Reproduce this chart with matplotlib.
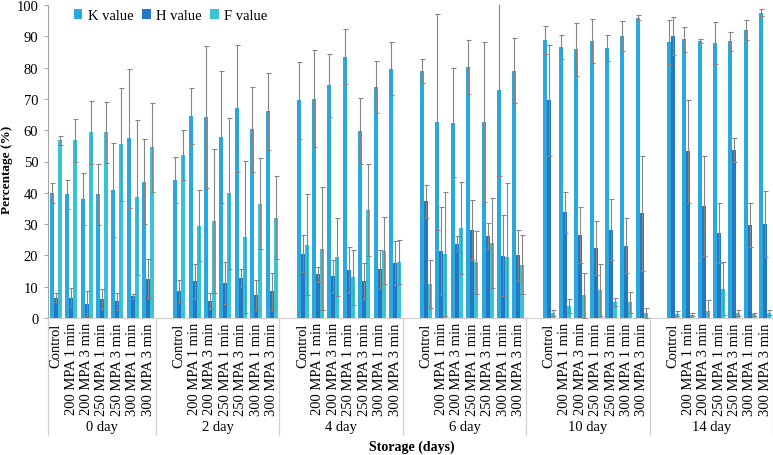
import matplotlib
matplotlib.use("Agg")
import matplotlib.pyplot as plt
import matplotlib.transforms as mtransforms
import numpy as np

plt.rcParams['font.family'] = ['Liberation Serif', 'DejaVu Serif']

treatments = ["Control", "200 MPA 1 min", "200 MPA 3 min", "250 MPA 1 min",
              "250 MPA 3 min", "300 MPA 1 min", "300 MPA 3 min"]
days = ["0 day", "2 day", "4 day", "6 day", "10 day", "14 day"]
series_names = ["K value", "H value", "F value"]

k_value = [
    [40.0, 39.5, 38.0, 39.5, 41.0, 57.5, 43.5],
    [44.0, 64.5, 64.3, 57.8, 67.0, 60.3, 66.0],
    [69.5, 70.0, 74.3, 83.5, 59.7, 73.8, 79.7],
    [79.0, 62.6, 62.4, 80.2, 62.6, 73.0, 79.0],
    [88.8, 86.6, 85.8, 88.5, 86.3, 90.1, 96.0],
    [88.2, 89.0, 88.4, 88.0, 88.4, 91.9, 97.6]]
k_err = [
    [3.2, 4.7, 8.2, 9.7, 15.0, 22.2, 13.6],
    [7.3, 9.0, 22.7, 21.2, 20.3, 13.5, 12.3],
    [12.4, 15.5, 10.0, 8.7, 10.6, 8.4, 8.5],
    [3.8, 34.6, 17.5, 8.5, 25.6, 27.7, 10.3],
    [4.5, 3.8, 8.5, 7.0, 4.2, 4.9, 0.8],
    [7.0, 3.9, 0.7, 6.7, 3.0, 3.2, 1.1]]

h_value = [
    [6.5, 6.5, 4.5, 6.0, 5.3, 7.0, 12.6],
    [8.5, 11.7, 5.5, 11.2, 12.8, 7.2, 8.5],
    [20.5, 13.9, 13.3, 15.3, 11.9, 15.5, 17.5],
    [37.3, 21.3, 23.8, 28.2, 26.2, 19.9, 20.0],
    [69.5, 33.8, 26.6, 22.4, 28.2, 23.1, 33.4],
    [90.1, 53.3, 35.7, 27.2, 53.8, 29.7, 30.1]]
h_err = [
    [1.5, 3.0, 4.0, 3.2, 2.7, 0.8, 6.2],
    [3.5, 5.5, 2.6, 6.8, 3.0, 4.8, 6.0],
    [5.9, 2.3, 5.3, 7.3, 5.7, 6.3, 7.0],
    [5.3, 14.1, 2.3, 9.6, 4.0, 12.9, 8.2],
    [17.6, 6.5, 9.0, 8.7, 9.7, 8.8, 18.3],
    [6.1, 16.4, 15.9, 9.5, 3.8, 7.0, 10.6]]

f_value = [
    [56.8, 56.8, 59.3, 59.3, 55.5, 38.5, 54.5],
    [52.2, 29.5, 31.0, 39.8, 26.0, 36.5, 32.0],
    [23.4, 22.2, 19.5, 13.0, 34.4, 21.5, 17.8],
    [10.9, 20.5, 28.8, 17.8, 23.9, 19.5, 17.0],
    [1.6, 3.9, 7.2, 8.8, 5.1, 5.0, 1.6],
    [1.3, 1.1, 2.3, 9.4, 1.6, 1.2, 1.6]]
f_err = [
    [1.4, 6.9, 10.0, 9.8, 18.1, 24.8, 14.3],
    [8.0, 11.3, 23.0, 24.1, 24.3, 14.5, 13.3],
    [16.2, 19.5, 12.5, 8.8, 14.7, 10.7, 7.0],
    [7.7, 19.9, 14.7, 10.1, 14.4, 23.5, 9.4],
    [1.1, 2.3, 7.2, 8.3, 1.3, 3.3, 1.7],
    [0.8, 0.5, 3.5, 8.5, 1.0, 0.5, 0.8]]

colors = ["#2aa8e0", "#2577c0", "#38c4d6"]
err_color = "#858585"

fig = plt.figure(figsize=(7.73, 4.56), dpi=100)
ax = fig.add_axes([48 / 773, (456 - 319) / 456, 725 / 773, 313 / 456])

# slot positions: 7 treatments per day, a blank slot between days
slots = np.array([[8 * d + t for t in range(len(treatments))] for d in range(len(days))])
xs = slots.flatten()

bw = 0.26
offsets = [-bw, 0.0, bw]
vals = [k_value, h_value, f_value]
errs = [k_err, h_err, f_err]

handles = []
for i in range(3):
    v = np.array(vals[i]).flatten()
    b = ax.bar(xs + offsets[i], v, width=bw, color=colors[i], label=series_names[i],
               zorder=2, linewidth=0)
    handles.append(b)
for i in range(3):
    v = np.array(vals[i]).flatten()
    e = np.array(errs[i]).flatten()
    ax.errorbar(xs + offsets[i], v, yerr=e, fmt='none', ecolor=err_color,
                elinewidth=0.8, capsize=1.8, capthick=0.8, zorder=3)

ax.set_xlim(-0.5, 46.5)
ax.set_ylim(0, 100)
ax.set_yticks(np.arange(0, 101, 10))
ax.tick_params(axis='y', labelsize=10.5, length=3, color="#a6a6a6", pad=4)
ax.set_xticks(xs)
ax.set_xticklabels(treatments * len(days), rotation=90, fontsize=10.5, va='top')
ax.tick_params(axis='x', length=0, pad=3)

for s in ['top', 'right']:
    ax.spines[s].set_visible(False)
ax.spines['left'].set_color("#a6a6a6")
ax.spines['bottom'].set_color("#d0d0d0")

trans = mtransforms.blended_transform_factory(ax.transData, ax.transAxes)
bounds = [-0.5] + [8 * d - 1.5 for d in range(1, len(days))] + [46.5]
for xb in bounds:
    ax.plot([xb, xb], [0, -0.374], transform=trans, color="#d0d0d0",
            lw=0.9, clip_on=False)
for d, name in enumerate(days):
    ax.text((bounds[d] + bounds[d + 1]) / 2, -0.348, name, transform=trans,
            ha='center', va='center', fontsize=10.5)

fig.text(412 / 773, 1 - 447 / 456, "Storage (days)", ha='center', va='center',
         fontsize=10, fontweight='bold')
fig.text(7 / 773, 1 - 170 / 456, "Percentage (%)", ha='center', va='center',
         rotation=90, fontsize=9.5, fontweight='bold')

ax.legend(handles=handles, ncol=3, loc='center', bbox_to_anchor=(0.169, 0.966),
          frameon=False, handlelength=0.6, handleheight=0.6, handletextpad=0.35,
          columnspacing=0.6, fontsize=10.5, borderaxespad=0)

fig.savefig("out.png", dpi=100)
